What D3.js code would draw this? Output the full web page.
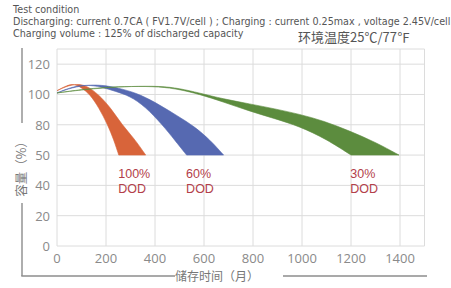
<!DOCTYPE html>
<html>
<head>
<meta charset="utf-8">
<script src="https://cdn.jsdelivr.net/npm/d3@7"></script>
<style>
  body { margin: 0; background: #fff; }
  text { font-family: "Open Sans", "Noto Sans", "Noto Sans CJK SC", sans-serif; }
</style>
</head>
<body>
<div id="chart"></div>
<script>
// tick labels (the original y axis is not linear: 50 sits where 60 would be)
var xTicks = [0, 200, 400, 600, 800, 1000, 1200, 1400];
var yTickPos = [0, 20, 40, 60, 80, 100, 120];
var yTickLabels = ['0', '20', '40', '50', '80', '100', '120'];

var headerLines = [
  'Test condition',
  'Discharging: current 0.7CA ( FV1.7V/cell ) ; Charging : current 0.25max , voltage 2.45V/cell',
  'Charging volume : 125% of discharged capacity'
];
var tempLabel = '环境温度25℃/77℉';

// each band: outer edge and inner edge as [month, position]
var dod100Outer = [[0,102.5],[40,105.5],[80,107],[120,106],[170,100],[220,91],[265,80],[315,71],[362,60]];
var dod100Inner = [[0,102.5],[40,106],[70,107],[100,104.5],[135,100],[170,91.5],[207,80],[232,70],[252,60]];
var dod60Outer = [[0,101],[60,104.5],[130,106.5],[200,106],[270,103.5],[340,100],[420,93],[490,86],[560,79],[625,70],[680,60]];
var dod60Inner = [[0,101],[60,105],[120,106.5],[180,105],[240,102],[297,99],[360,92],[430,80],[480,70],[529,60]];
var dod30Outer = [[0,101],[100,103],[200,104.5],[300,105.3],[420,105.6],[500,104],[580,101],[680,97],[786,93.8],[890,90.5],[989,87],[1090,82.5],[1193,76],[1300,68.5],[1396,60]];
var dod30Inner = [[0,101],[100,103.3],[200,104.8],[300,105.4],[420,105.2],[500,103.3],[580,100.2],[680,95],[786,89],[890,84],[989,79],[1100,70.5],[1200,60]];

var bands = [
  { name: ['100%', 'DOD'], outer: dod100Outer, inner: dod100Inner, color: '#d8643a', labelX: 250 },
  { name: ['60%', 'DOD'], outer: dod60Outer, inner: dod60Inner, color: '#5669b1', labelX: 527 },
  { name: ['30%', 'DOD'], outer: dod30Outer, inner: dod30Inner, color: '#5c8c3e', labelX: 1197 }
];

var width = 451, height = 288;
var svg = d3.select('#chart').append('svg')
  .attr('width', width)
  .attr('height', height);

var x = d3.scaleLinear().domain([0, 1500]).range([57, 424.5]);
var y = d3.scaleLinear().domain([0, 130]).range([246, 49]);

// header
svg.selectAll('.head')
  .data(headerLines)
 .enter().append('text')
  .attr('class', 'head')
  .attr('x', 13)
  .attr('y', function(d, i) { return 13 + i * 12; })
  .style('font-size', '9.6px')
  .style('font-family', '"DejaVu Sans", sans-serif')
  .style('fill', '#555')
  .text(function(d) { return d; });

svg.append('text')
  .attr('x', 298)
  .attr('y', 42)
  .style('font-size', '13px')
  .style('fill', '#555')
  .style('font-family', '"Noto Sans CJK SC", sans-serif')
  .text(tempLabel);

// grid
var grid = svg.append('g').attr('class', 'grid');
grid.selectAll('.hline')
  .data(yTickPos.concat([130]))
 .enter().append('line')
  .attr('x1', x(0)).attr('x2', x(1500))
  .attr('y1', function(d) { return y(d); })
  .attr('y2', function(d) { return y(d); })
  .style('stroke', '#dcdcdc').style('stroke-width', 1);
grid.selectAll('.vline')
  .data(xTicks.concat([1500]))
 .enter().append('line')
  .attr('y1', y(0)).attr('y2', y(130))
  .attr('x1', function(d) { return x(d); })
  .attr('x2', function(d) { return x(d); })
  .style('stroke', '#dcdcdc').style('stroke-width', 1);

// bands
var edge = d3.line()
  .x(function(d) { return x(d[0]); })
  .y(function(d) { return y(d[1]); })
  .curve(d3.curveBasis);

svg.selectAll('.band')
  .data(bands)
 .enter().append('path')
  .attr('class', 'band')
  .attr('d', function(d) {
    var back = edge(d.inner.slice().reverse());
    return edge(d.outer) + 'L' + back.slice(1) + 'Z';
  })
  .style('fill', function(d) { return d.color; })
  .style('stroke', function(d) { return d.color; })
  .style('stroke-width', 0.6);

// band labels, two lines each
bands.forEach(function(b) {
  b.name.forEach(function(t, i) {
    svg.append('text')
      .attr('class', 'lbl')
      .attr('x', x(b.labelX))
      .attr('y', 178 + i * 14.5)
      .style('font-size', '12.5px')
      .style('font-family', '"Liberation Sans", sans-serif')
      .style('fill', '#b3404a')
      .text(t);
  });
});

// tick labels
svg.selectAll('.xt')
  .data(xTicks)
 .enter().append('text')
  .attr('x', function(d) { return x(d); })
  .attr('y', 262.5)
  .attr('text-anchor', 'middle')
  .style('font-size', '13px')
  .style('fill', '#8a8a8a')
  .text(function(d) { return d; });

svg.selectAll('.yt')
  .data(yTickPos)
 .enter().append('text')
  .attr('x', 50)
  .attr('y', function(d) { return y(d) + 5; })
  .attr('text-anchor', 'end')
  .style('font-size', '13px')
  .style('fill', '#8a8a8a')
  .text(function(d, i) { return yTickLabels[i]; });

// axis titles with the bracket lines
var frame = '#8c8c8c';
svg.append('line').attr('x1', 22).attr('x2', 22).attr('y1', 48).attr('y2', 123).style('stroke', frame).style('stroke-width', 1.4);
svg.append('line').attr('x1', 22).attr('x2', 22).attr('y1', 203).attr('y2', 276).style('stroke', frame).style('stroke-width', 1.4);
svg.append('line').attr('x1', 21.3).attr('x2', 175).attr('y1', 276).attr('y2', 276).style('stroke', frame).style('stroke-width', 1.4);
svg.append('line').attr('x1', 283).attr('x2', 427).attr('y1', 276).attr('y2', 276).style('stroke', frame).style('stroke-width', 1.4);

svg.append('text')
  .attr('transform', 'translate(26,166) rotate(-90)')
  .attr('text-anchor', 'middle')
  .style('font-size', '12.5px')
  .style('fill', '#777')
  .style('font-family', '"Noto Sans CJK SC", sans-serif')
  .text('容量（%）');

svg.append('text')
  .attr('x', 217)
  .attr('y', 281)
  .attr('text-anchor', 'middle')
  .style('font-size', '12px')
  .style('fill', '#777')
  .style('font-family', '"Noto Sans CJK SC", sans-serif')
  .text('储存时间（月）');
</script>
</body>
</html>
